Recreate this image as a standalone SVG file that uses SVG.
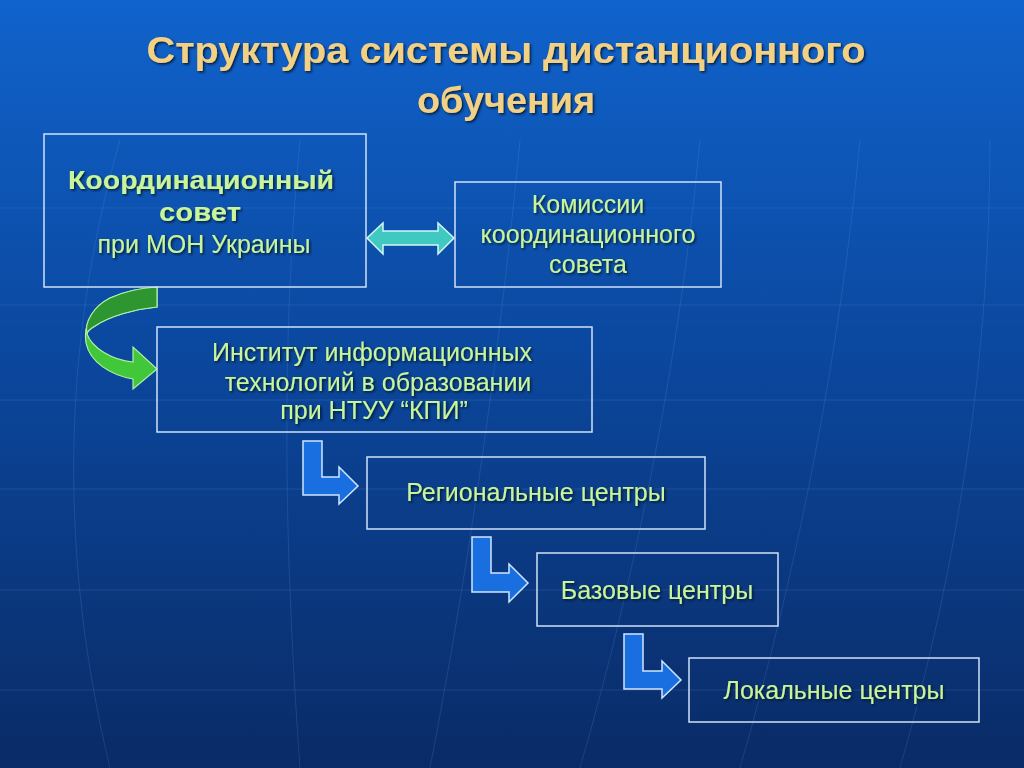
<svg xmlns="http://www.w3.org/2000/svg" width="1024" height="768" viewBox="0 0 1024 768">
  <defs>
    <linearGradient id="bg" x1="0" y1="0" x2="0" y2="1">
      <stop offset="0" stop-color="#1063cc"/>
      <stop offset="0.45" stop-color="#0b489f"/>
      <stop offset="1" stop-color="#0a2b66"/>
    </linearGradient>
    <filter id="shadow" x="-10%" y="-20%" width="120%" height="150%">
      <feDropShadow dx="1.5" dy="1.5" stdDeviation="0.8" flood-color="#06122e" flood-opacity="0.9"/>
    </filter>
    <style>
      .title { font-family: "Liberation Sans", Arial, sans-serif; font-weight: bold; font-size: 36px; fill: #f2d184; text-anchor: middle; filter: url(#shadow); }
      .lbl { font-family: "Liberation Sans", Arial, sans-serif; font-size: 25px; fill: #c8f59a; text-anchor: middle; filter: url(#shadow); }
      .lblb { font-family: "Liberation Sans", Arial, sans-serif; font-size: 26px; font-weight: bold; fill: #c8f59a; text-anchor: middle; filter: url(#shadow); }
      .box { fill: none; stroke: #cfe2f7; stroke-width: 1.5; }
      .barrow { fill: #1a6fe0; stroke: #cfe6ff; stroke-width: 1.5; stroke-linejoin: miter; }
      .grid { fill: none; stroke: #6fa3e8; stroke-width: 1; opacity: 0.18; }
    </style>
  </defs>

  <rect x="0" y="0" width="1024" height="768" fill="url(#bg)"/>

  <g id="background-grid">
    <line class="grid" x1="0" y1="208" x2="1024" y2="208"/>
    <line class="grid" x1="0" y1="305" x2="1024" y2="305"/>
    <line class="grid" x1="0" y1="400" x2="1024" y2="400"/>
    <line class="grid" x1="0" y1="489" x2="1024" y2="489"/>
    <line class="grid" x1="0" y1="590" x2="1024" y2="590"/>
    <line class="grid" x1="0" y1="690" x2="1024" y2="690"/>
    <path class="grid" d="M 120 140 C 60 350 60 560 110 768"/>
    <path class="grid" d="M 300 140 C 280 350 285 560 300 768"/>
    <path class="grid" d="M 520 140 C 500 350 470 560 430 768"/>
    <path class="grid" d="M 700 140 C 680 350 640 560 580 768"/>
    <path class="grid" d="M 860 140 C 840 350 800 560 740 768"/>
    <path class="grid" d="M 990 140 C 990 350 960 560 900 768"/>
  </g>

  <g id="title">
    <text class="title" x="506" y="63" textLength="719" lengthAdjust="spacingAndGlyphs">Структура системы дистанционного</text>
    <text class="title" x="506" y="113" textLength="178" lengthAdjust="spacingAndGlyphs">обучения</text>
  </g>

  <g id="connectors">
    <g id="green-curved-arrow" stroke="#b4f0a4" stroke-width="1.2" stroke-linejoin="miter">
      <path d="M 157 287 L 157 307 C 135 309 110 316 95 326 C 90 329 87 332 87 334 C 92 348 112 360 133 362 L 133 347 L 157 369 L 133 389 L 133 379 C 110 375 90 362 86 343 C 83 325 92 308 110 298 C 125 291 142 288 157 287 Z" fill="#42c63a"/>
      <path d="M 157 287 L 157 307 C 135 309 110 316 95 326 C 90 329 87 332 87 334 C 84 322 94 306 110 298 C 125 291 142 288 157 287 Z" fill="#2d9630"/>
    </g>
    <path id="double-arrow" d="M 367 238 L 383 223 L 383 231 L 438 231 L 438 223 L 454 238 L 438 254 L 438 245 L 383 245 L 383 254 Z" fill="#3fc9c1" stroke="#d6f6f4" stroke-width="1.5"/>
    <path class="barrow" d="M 303 441 L 322 441 L 322 477 L 339 477 L 339 467 L 358 486 L 339 504 L 339 495 L 303 495 Z"/>
    <path class="barrow" d="M 472 537 L 491 537 L 491 573 L 509 573 L 509 564 L 528 583 L 509 602 L 509 592 L 472 592 Z"/>
    <path class="barrow" d="M 624 634 L 643 634 L 643 671 L 662 671 L 662 661 L 681 680 L 662 698 L 662 689 L 624 689 Z"/>
  </g>

  <g id="node-council">
    <rect class="box" x="44" y="134" width="322" height="153"/>
    <text class="lblb" x="201" y="189" textLength="266" lengthAdjust="spacingAndGlyphs">Координационный</text>
    <text class="lblb" x="200" y="221" textLength="82" lengthAdjust="spacingAndGlyphs">совет</text>
    <text class="lbl" x="204" y="253">при МОН Украины</text>
  </g>

  <g id="node-commissions">
    <rect class="box" x="455" y="182" width="266" height="105"/>
    <text class="lbl" x="588" y="213">Комиссии</text>
    <text class="lbl" x="588" y="243">координационного</text>
    <text class="lbl" x="588" y="273">совета</text>
  </g>

  <g id="node-institute">
    <rect class="box" x="157" y="327" width="435" height="105"/>
    <text class="lbl" x="372" y="361">Институт информационных</text>
    <text class="lbl" x="378" y="391">технологий в образовании</text>
    <text class="lbl" x="374" y="419">при НТУУ “КПИ”</text>
  </g>

  <g id="node-regional">
    <rect class="box" x="367" y="457" width="338" height="72"/>
    <text class="lbl" x="536" y="501">Региональные центры</text>
  </g>

  <g id="node-base">
    <rect class="box" x="537" y="553" width="241" height="73"/>
    <text class="lbl" x="657" y="599">Базовые центры</text>
  </g>

  <g id="node-local">
    <rect class="box" x="689" y="658" width="290" height="64"/>
    <text class="lbl" x="834" y="699">Локальные центры</text>
  </g>
</svg>
